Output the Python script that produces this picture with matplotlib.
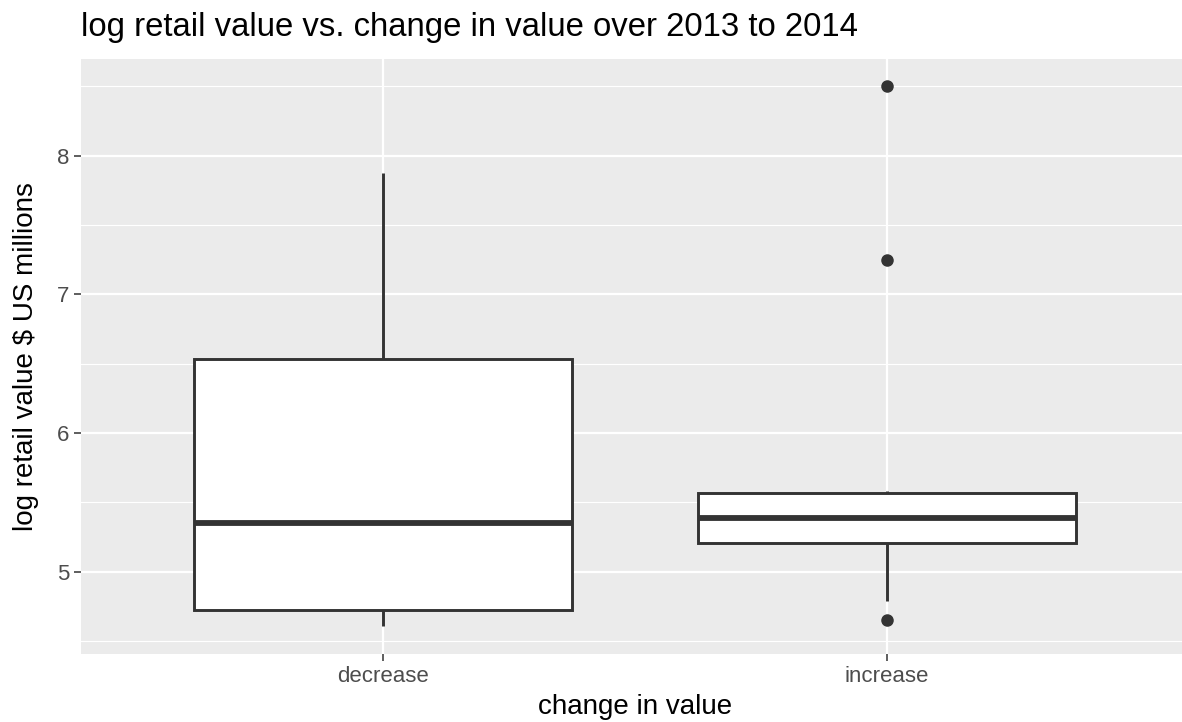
import numpy as np
import matplotlib
matplotlib.use('Agg')
import matplotlib.pyplot as plt

# Box statistics (log retail value, $ US millions)
categories = ['decrease', 'increase']
q1_vals = [4.722, 5.208]
median_vals = [5.351, 5.389]
q3_vals = [6.531, 5.565]
whisker_low = [4.612, 4.79]
whisker_high = [7.877, 5.58]
outliers = [[], [8.505, 7.249, 4.655]]

y_ticks = [5, 6, 7, 8]

def build_stats():
	# Builds the list of dicts that bxp expects
	stats = []
	for i, cat in enumerate(categories):
		stats.append({
			'label': cat,
			'q1': q1_vals[i],
			'med': median_vals[i],
			'q3': q3_vals[i],
			'whislo': whisker_low[i],
			'whishi': whisker_high[i],
			'fliers': outliers[i],
		})
	return stats

def main():
	plt.rcParams['font.family'] = ['Liberation Sans', 'DejaVu Sans']
	W, H = 1182, 722
	fig = plt.figure(figsize=(W / 100, H / 100), dpi=100)
	# panel spills slightly past the right edge like the reference
	left, right, top, bottom = 81, 1189, 59, 653.7
	ax = fig.add_axes([left / W, 1 - bottom / H, (right - left) / W, (bottom - top) / H])
	ax.set_facecolor('#EBEBEB')

	edge = '#333333'
	positions = np.arange(1, len(categories) + 1)
	ax.bxp(build_stats(), positions=positions, widths=0.75, patch_artist=True,
		showcaps=False,
		boxprops=dict(facecolor='white', edgecolor=edge, linewidth=2.1),
		medianprops=dict(color=edge, linewidth=4.2, solid_capstyle='butt'),
		whiskerprops=dict(color=edge, linewidth=2.1, solid_capstyle='butt'),
		flierprops=dict(marker='o', markerfacecolor=edge, markeredgecolor=edge, markersize=8),
		zorder=3)

	ax.set_xlim(0.4, len(categories) + 0.6)
	ax.set_ylim(4.409, 8.697)

	# Grid lines, ggplot grey style
	ax.set_yticks(y_ticks)
	ax.set_yticks([4.5, 5.5, 6.5, 7.5, 8.5], minor=True)
	ax.set_xticks(positions)
	ax.set_xticklabels(categories)
	ax.grid(which='major', color='white', linewidth=1.6)
	ax.grid(which='minor', axis='y', color='white', linewidth=0.8)
	ax.set_axisbelow(True)
	for s in ax.spines.values():
		s.set_visible(False)

	ax.tick_params(which='major', length=5, width=1.1, color=edge, labelcolor='#4D4D4D', labelsize=16, pad=3.5)
	ax.tick_params(which='minor', length=0)

	# Titles placed in figure pixels
	fig.text(left / W, 1 - 36 / H, 'log retail value vs. change in value over 2013 to 2014',
		fontsize=23.7, color='black', ha='left', va='baseline')
	fig.text((left + right) / 2 / W, 1 - 714 / H, 'change in value',
		fontsize=20, color='black', ha='center', va='baseline')
	fig.text(26 / W, 1 - (top + bottom) / 2 / H, 'log retail value $ US millions',
		fontsize=20, color='black', ha='center', va='center', rotation=90)

	fig.savefig('out.png', dpi=100)

if __name__ == '__main__':
	main()
